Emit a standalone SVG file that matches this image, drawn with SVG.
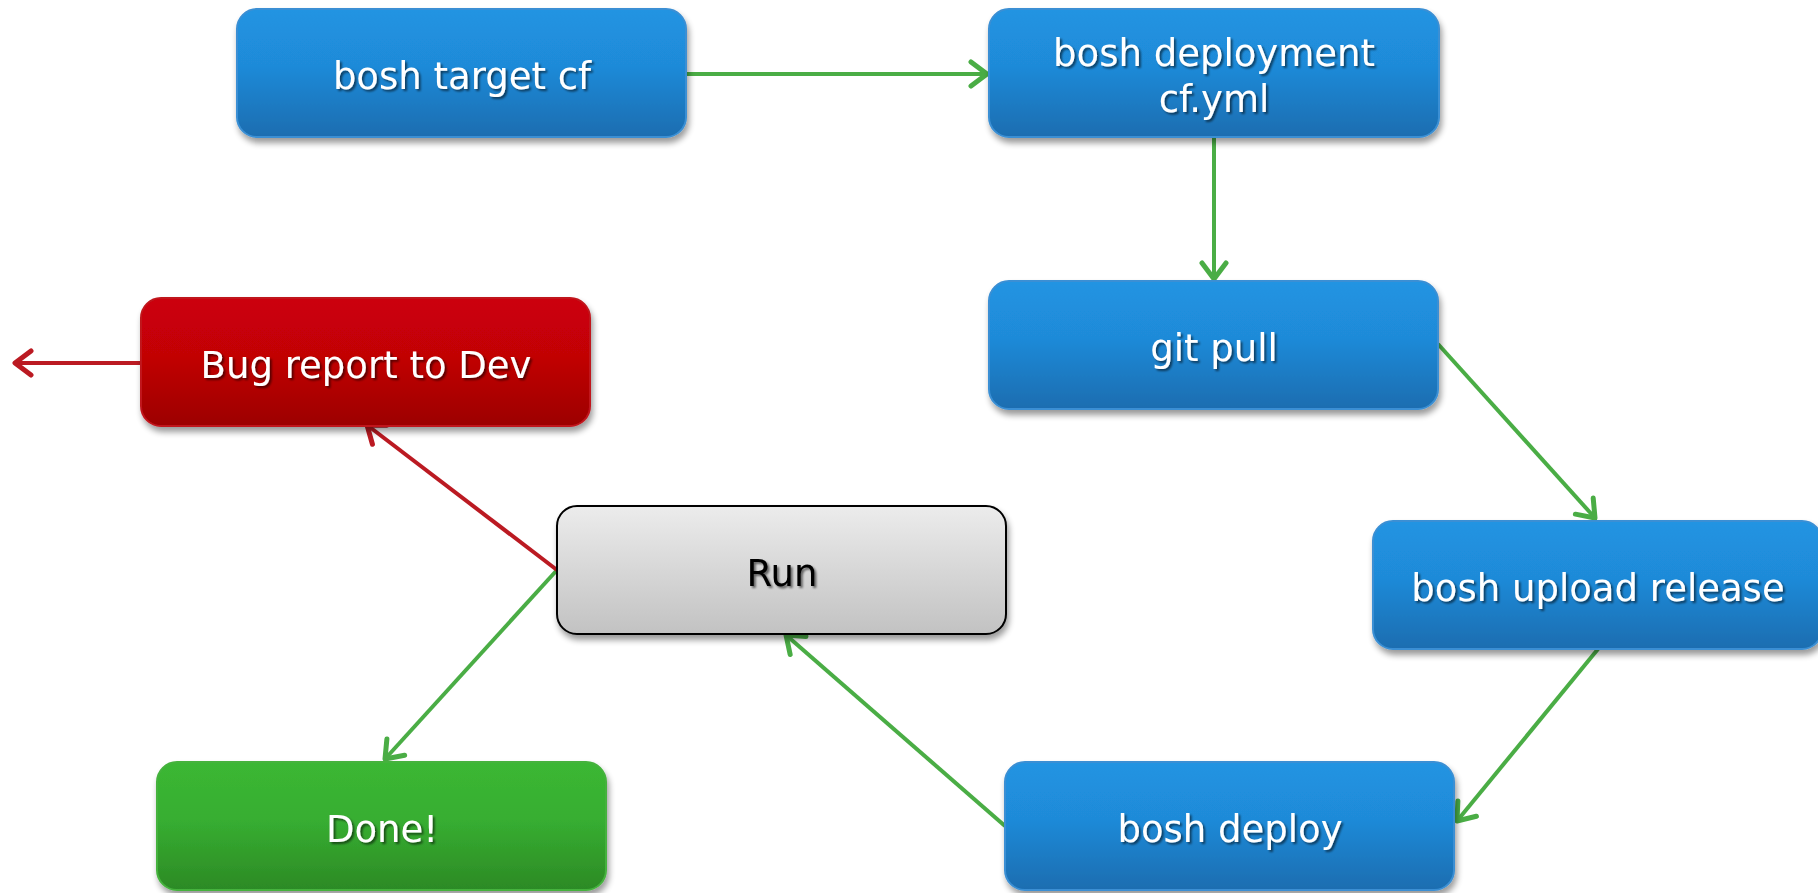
<svg xmlns="http://www.w3.org/2000/svg" width="1818" height="893" viewBox="0 0 1818 893">
  <defs>
    <linearGradient id="gBlue" x1="0" y1="0" x2="0" y2="1">
      <stop offset="0" stop-color="#2194e2"/>
      <stop offset="0.45" stop-color="#1f8ad8"/>
      <stop offset="1" stop-color="#1a6db0"/>
    </linearGradient>
    <linearGradient id="gRed" x1="0" y1="0" x2="0" y2="1">
      <stop offset="0" stop-color="#cc0208"/>
      <stop offset="0.45" stop-color="#c20006"/>
      <stop offset="1" stop-color="#9c0002"/>
    </linearGradient>
    <linearGradient id="gGreen" x1="0" y1="0" x2="0" y2="1">
      <stop offset="0" stop-color="#3bb734"/>
      <stop offset="0.45" stop-color="#37ae31"/>
      <stop offset="1" stop-color="#2c8a25"/>
    </linearGradient>
    <linearGradient id="gGray" x1="0" y1="0" x2="0" y2="1">
      <stop offset="0" stop-color="#ececec"/>
      <stop offset="1" stop-color="#c2c2c2"/>
    </linearGradient>
    <filter id="boxShadow" x="-10%" y="-20%" width="125%" height="150%">
      <feGaussianBlur in="SourceAlpha" stdDeviation="3"/>
      <feOffset dx="2" dy="5" result="b"/>
      <feComponentTransfer><feFuncA type="linear" slope="0.4"/></feComponentTransfer>
      <feMerge><feMergeNode/><feMergeNode in="SourceGraphic"/></feMerge>
    </filter>
    <filter id="txtShadow" x="-10%" y="-30%" width="125%" height="160%">
      <feGaussianBlur in="SourceAlpha" stdDeviation="1.2"/>
      <feOffset dx="2" dy="2"/>
      <feComponentTransfer><feFuncA type="linear" slope="0.55"/></feComponentTransfer>
      <feMerge><feMergeNode/><feMergeNode in="SourceGraphic"/></feMerge>
    </filter>
    <marker id="arrGreen" viewBox="-19 -15 22 30" refX="0" refY="0" markerWidth="22" markerHeight="30" markerUnits="userSpaceOnUse" orient="auto">
      <path d="M-16,-12 L0,0 L-16,12" fill="none" stroke="#4aad45" stroke-width="5" stroke-linecap="round" stroke-linejoin="round"/>
    </marker>
    <marker id="arrRed" viewBox="-19 -15 22 30" refX="0" refY="0" markerWidth="22" markerHeight="30" markerUnits="userSpaceOnUse" orient="auto">
      <path d="M-16,-12 L0,0 L-16,12" fill="none" stroke="#bb1a22" stroke-width="5" stroke-linecap="round" stroke-linejoin="round"/>
    </marker>
  </defs>
  <style>
    .box { filter: url(#boxShadow); }
    .blue { fill: url(#gBlue); stroke: #3a8fd4; stroke-width: 2; }
    .red { fill: url(#gRed); stroke: #c0141c; stroke-width: 2; }
    .green { fill: url(#gGreen); stroke: #45b23d; stroke-width: 2; }
    .gray { fill: url(#gGray); stroke: #000; stroke-width: 2; }
    .lbl { font-family: "DejaVu Sans", Verdana, sans-serif; font-size: 37px; text-anchor: middle; fill: #fff; filter: url(#txtShadow); }
    .dark { fill: #000; }
    .cg { stroke: #4aad45; stroke-width: 4; fill: none; marker-end: url(#arrGreen); }
    .cr { stroke: #bb1a22; stroke-width: 4; fill: none; marker-end: url(#arrRed); }
  </style>

  <g id="connectors">
    <line class="cg" x1="686" y1="74" x2="987" y2="74"/>
    <line class="cg" x1="1214" y1="137" x2="1214" y2="279"/>
    <line class="cg" x1="1438" y1="344" x2="1595" y2="518"/>
    <line class="cg" x1="1598" y1="649" x2="1457" y2="821"/>
    <line class="cg" x1="1005" y1="826" x2="786" y2="635"/>
    <line class="cg" x1="557" y1="570" x2="385" y2="759"/>
    <line class="cr" x1="557" y1="570" x2="367" y2="425"/>
    <line class="cr" x1="141" y1="363" x2="15" y2="363"/>
  </g>

  <g id="node-target">
    <rect class="box blue" x="237" y="9" width="449" height="128" rx="20"/>
    <text class="lbl" x="462" y="89">bosh target cf</text>
  </g>

  <g id="node-deployment">
    <rect class="box blue" x="989" y="9" width="450" height="128" rx="20"/>
    <text class="lbl" x="1214" y="66">bosh deployment</text>
    <text class="lbl" x="1214" y="112">cf.yml</text>
  </g>

  <g id="node-gitpull">
    <rect class="box blue" x="989" y="281" width="449" height="128" rx="20"/>
    <text class="lbl" x="1214" y="361">git pull</text>
  </g>

  <g id="node-upload">
    <rect class="box blue" x="1373" y="521" width="449" height="128" rx="20"/>
    <text class="lbl" x="1598" y="601">bosh upload release</text>
  </g>

  <g id="node-deploy">
    <rect class="box blue" x="1005" y="762" width="449" height="128" rx="20"/>
    <text class="lbl" x="1230" y="842">bosh deploy</text>
  </g>

  <g id="node-run">
    <rect class="box gray" x="557" y="506" width="449" height="128" rx="20"/>
    <text class="lbl dark" x="782" y="586">Run</text>
  </g>

  <g id="node-bug">
    <rect class="box red" x="141" y="298" width="449" height="128" rx="20"/>
    <text class="lbl" x="366" y="378">Bug report to Dev</text>
  </g>

  <g id="node-done">
    <rect class="box green" x="157" y="762" width="449" height="128" rx="20"/>
    <text class="lbl" x="382" y="842">Done!</text>
  </g>
</svg>
